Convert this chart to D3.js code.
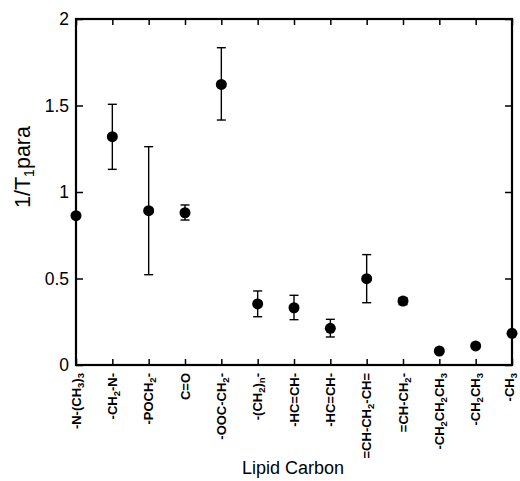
<!DOCTYPE html>
<html><head><meta charset="utf-8">
<script src="https://cdn.jsdelivr.net/npm/d3@7"></script>
<style>body{margin:0;background:#fff;} svg{display:block;}</style>
</head><body>
<svg id="chart" width="520" height="481"></svg>
<script>
// Category labels: arrays of [text, isSubscript] parts
const categories = [
  [["-N-(CH",0],["3",1],[")",0],["3",1]],
  [["-CH",0],["2",1],["-N-",0]],
  [["-POCH",0],["2",1],["-",0]],
  [["C=O",0]],
  [["-OOC-CH",0],["2",1],["-",0]],
  [["-(CH",0],["2",1],[")",0],["n",1],["-",0]],
  [["-HC=CH-",0]],
  [["-HC=CH-",0]],
  [["=CH-CH",0],["2",1],["-CH=",0]],
  [["=CH-CH",0],["2",1],["-",0]],
  [["-CH",0],["2",1],["CH",0],["2",1],["CH",0],["3",1]],
  [["-CH",0],["2",1],["CH",0],["3",1]],
  [["-CH",0],["3",1]]
];
const values  = [0.863, 1.32, 0.892, 0.880, 1.622, 0.353, 0.331, 0.212, 0.499, 0.370, 0.081, 0.110, 0.183];
const errLow  = [null, 1.131, 0.522, 0.838, 1.416, 0.279, 0.262, 0.162, 0.360, 0.349, null, null, null];
const errHigh = [null, 1.507, 1.262, 0.925, 1.834, 0.428, 0.403, 0.264, 0.638, 0.389, null, null, null];
const yTicks = [0, 0.5, 1, 1.5, 2];
const yTickLabels = ["0", "0.5", "1", "1.5", "2"];

const L = 76, R = 512, T = 19, B = 365;
const svg = d3.select("#chart");
const x = d3.scalePoint().domain(d3.range(categories.length)).range([L, R]);
const y = d3.scaleLinear().domain([0, 2]).range([B, T]);

// Ticks (inward on all sides)
const g = svg.append("g");
g.append("g").attr("transform", `translate(0,${B})`)
  .call(d3.axisTop(x).tickSize(6).tickFormat(""))
  .call(a => a.select(".domain").remove());
g.append("g").attr("transform", `translate(0,${T})`)
  .call(d3.axisBottom(x).tickSize(6).tickFormat(""))
  .call(a => a.select(".domain").remove());
g.append("g").attr("transform", `translate(${L},0)`)
  .call(d3.axisRight(y).tickValues(yTicks).tickSize(7).tickFormat(""))
  .call(a => a.select(".domain").remove());
g.append("g").attr("transform", `translate(${R},0)`)
  .call(d3.axisLeft(y).tickValues(yTicks).tickSize(7).tickFormat(""))
  .call(a => a.select(".domain").remove());
g.selectAll(".tick line").attr("stroke", "#000").attr("stroke-width", 1.5);

// Frame
svg.append("rect").attr("x", L).attr("y", T).attr("width", R - L).attr("height", B - T)
  .attr("fill", "none").attr("stroke", "#000").attr("stroke-width", 2.2);

// Y tick labels
svg.append("g").selectAll("text").data(yTicks).join("text")
  .attr("x", L - 7).attr("y", d => y(d)).attr("dy", "0.36em")
  .attr("text-anchor", "end").attr("font-family", "Liberation Sans, Arial, sans-serif")
  .attr("font-size", 17.5).text((d, i) => yTickLabels[i]);

// X tick labels (rotated)
const last = categories.length - 1;
const xl = svg.append("g").selectAll("text").data(categories).join("text")
  .attr("transform", (d, i) => `translate(${x(i) - (i === last ? 2.5 : 0)},${373}) rotate(-90)`)
  .attr("text-anchor", "end").attr("dy", "0.36em")
  .attr("font-family", "Liberation Sans, Arial, sans-serif")
  .attr("font-weight", "bold").attr("font-size", 13);
xl.each(function(parts) {
  const t = d3.select(this);
  parts.forEach(([s, sub]) => {
    const ts = t.append("tspan").text(s);
    if (sub) ts.attr("font-size", 9.5).attr("baseline-shift", "-30%");
  });
});

// Error bars
const idx = d3.range(values.length).filter(i => errLow[i] !== null);
const eb = svg.append("g").attr("stroke", "#000").attr("stroke-width", 1.4);
eb.selectAll("line.v").data(idx).join("line").attr("class", "v")
  .attr("x1", i => x(i)).attr("x2", i => x(i))
  .attr("y1", i => y(errLow[i])).attr("y2", i => y(errHigh[i]));
eb.selectAll("line.t").data(idx).join("line").attr("class", "t")
  .attr("x1", i => x(i) - 4.5).attr("x2", i => x(i) + 4.5)
  .attr("y1", i => y(errHigh[i])).attr("y2", i => y(errHigh[i]));
eb.selectAll("line.b").data(idx).join("line").attr("class", "b")
  .attr("x1", i => x(i) - 4.5).attr("x2", i => x(i) + 4.5)
  .attr("y1", i => y(errLow[i])).attr("y2", i => y(errLow[i]));

// Points
svg.append("g").selectAll("circle").data(values).join("circle")
  .attr("cx", (d, i) => x(i)).attr("cy", d => y(d)).attr("r", 5.5).attr("fill", "#000");

// Axis titles
const yt = svg.append("text").attr("transform", `translate(30,167) rotate(-90)`)
  .attr("text-anchor", "middle").attr("font-family", "Liberation Sans, Arial, sans-serif")
  .attr("font-size", 21.5);
yt.append("tspan").text("1/T");
yt.append("tspan").text("1").attr("font-size", 14).attr("baseline-shift", "-30%");
yt.append("tspan").text("para");

svg.append("text").attr("x", 293).attr("y", 474).attr("text-anchor", "middle")
  .attr("font-family", "Liberation Sans, Arial, sans-serif").attr("font-size", 18)
  .text("Lipid Carbon");
</script>
</body></html>
